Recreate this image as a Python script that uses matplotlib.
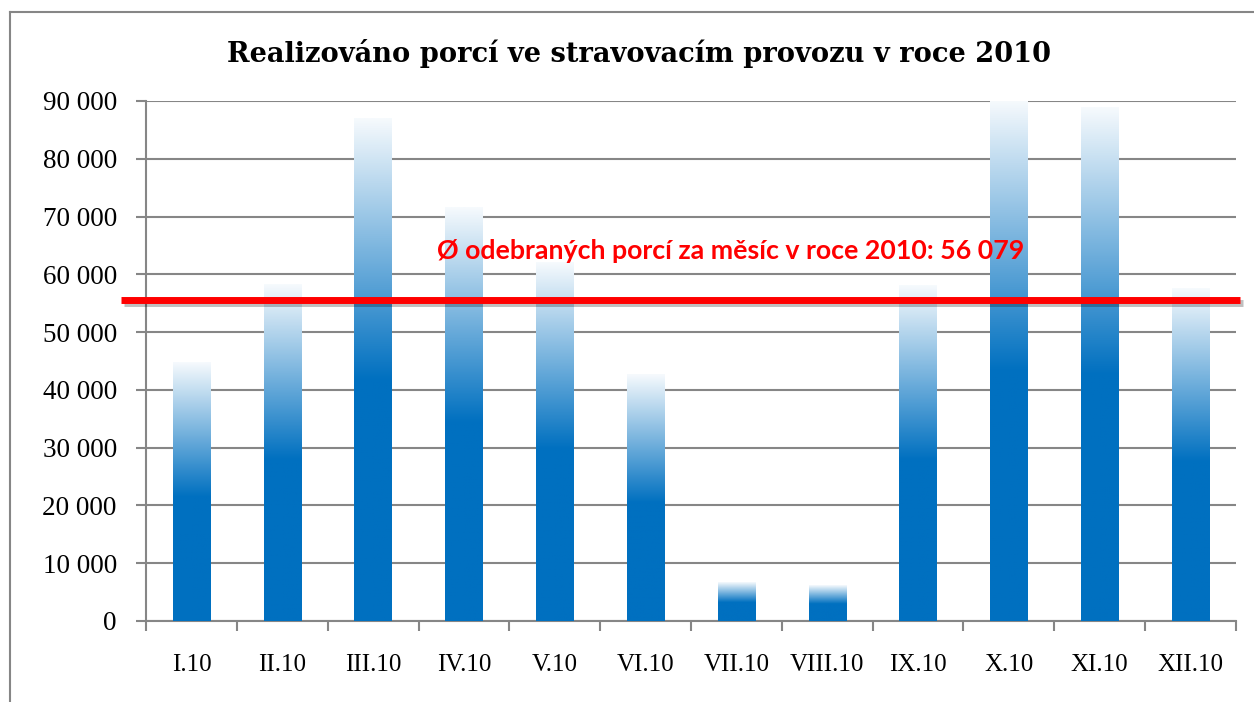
import numpy as np
import matplotlib
matplotlib.use("Agg")
import matplotlib.pyplot as plt
from matplotlib.colors import LinearSegmentedColormap
from matplotlib.lines import Line2D
import matplotlib.patheffects as pe

# data
months = ["I.10", "II.10", "III.10", "IV.10", "V.10", "VI.10",
          "VII.10", "VIII.10", "IX.10", "X.10", "XI.10", "XII.10"]
portions = [44800, 58200, 87000, 71500, 62100, 42600,
            6600, 6100, 58000, 90200, 88800, 57600]
avg_line = 55500
avg_label = "Ø odebraných porcí za měsíc v roce 2010: 56 079"
title = "Realizováno porcí ve stravovacím provozu v roce 2010"
yticks = list(range(0, 90001, 10000))
ytick_labels = [f"{v:,}".replace(",", " ") for v in yticks]

W, H = 1254, 702
fig = plt.figure(figsize=(W / 100, H / 100), dpi=100)
ax = fig.add_axes([146 / W, 1 - 621 / H, 1090 / W, 520 / H])

grey = "#868686"
cmap = LinearSegmentedColormap.from_list(
    "bar", [(0, "#0070C0"), (0.48, "#0070C0"), (1, "#F6FAFD")])
grad = np.linspace(0, 1, 256).reshape(-1, 1)
bw = 0.41
x = np.arange(len(months))
for i, v in zip(x, portions):
    ax.imshow(grad, cmap=cmap, origin="lower", aspect="auto",
              extent=(i - bw / 2, i + bw / 2, 0, v), zorder=3)

ax.set_xlim(-0.5, len(months) - 0.5)
ax.set_ylim(0, 90000)
ax.set_yticks(yticks)
ax.set_yticklabels(ytick_labels, family="Liberation Serif", fontsize=19.5)
ax.set_xticks(x)
ax.set_xticklabels(months, family="Liberation Serif", fontsize=18)
ax.set_xticks(np.arange(-0.5, len(months)), minor=True)
ax.tick_params(axis="x", which="major", length=0, pad=24)
ax.tick_params(axis="x", which="minor", length=7, width=1.5, color=grey)
ax.tick_params(axis="y", length=7, width=1.5, color=grey, pad=14)
ax.grid(axis="y", color=grey, linewidth=1.5, zorder=1)
ax.set_axisbelow(True)
for s in ["top", "right"]:
    ax.spines[s].set_visible(False)
for s in ["left", "bottom"]:
    ax.spines[s].set_color(grey)
    ax.spines[s].set_linewidth(1.5)

# average line, runs a bit past the plot area
trans = ax.get_yaxis_transform()
ax.plot([-0.023, 1.004], [avg_line, avg_line], color="#FF0000", linewidth=5,
        transform=trans, clip_on=False, zorder=5, solid_capstyle="butt",
        path_effects=[pe.SimpleLineShadow(offset=(2, -2), alpha=0.25), pe.Normal()])
ax.text(5.94, 64000, avg_label, color="#FF0000", fontsize=19.3, fontweight="bold",
        family="Lato", ha="center", va="center", zorder=6)

fig.text(639 / W, 1 - 53 / H, title, family="DejaVu Serif", fontweight="bold",
         fontsize=19.6, ha="center", va="center")

# outer frame of the chart
fig.add_artist(Line2D([10 / W, 10 / W], [0, 1 - 12 / H], color=grey, linewidth=1.5))
fig.add_artist(Line2D([10 / W, 1], [1 - 12 / H, 1 - 12 / H], color=grey, linewidth=1.5))

fig.savefig("out.png", dpi=100)
